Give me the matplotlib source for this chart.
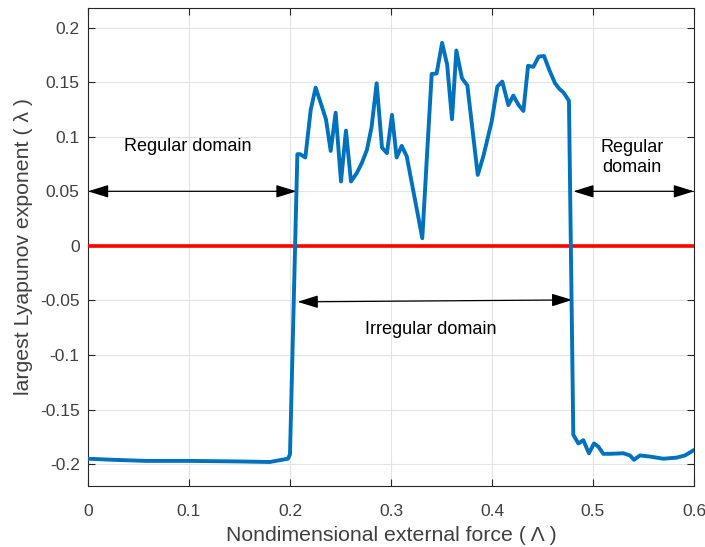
import matplotlib.pyplot as plt

plt.rcParams['font.family'] = ['Liberation Sans', 'DejaVu Sans']

# largest Lyapunov exponent vs nondimensional force
force = [0.0, 0.025, 0.058, 0.101, 0.150, 0.180, 0.198, 0.200,
         0.2073, 0.210, 0.2152, 0.2205, 0.2254, 0.2304, 0.2356, 0.2403, 0.2452,
         0.2505, 0.2554, 0.2604, 0.2660, 0.2710, 0.2762, 0.2808, 0.2858, 0.2911,
         0.2960, 0.3010, 0.3056, 0.3106, 0.3156, 0.3310, 0.3352, 0.3403, 0.3452,
         0.3506, 0.3556, 0.3604, 0.3647, 0.3703, 0.3756, 0.3859, 0.3914, 0.3997,
         0.4053, 0.4102, 0.4162, 0.4211, 0.4264, 0.4311, 0.4357, 0.4409, 0.4462,
         0.4515, 0.4568, 0.4624, 0.4667, 0.4707, 0.4762, 0.4805, 0.4855, 0.4904,
         0.4960, 0.5010, 0.5053, 0.5102, 0.5168, 0.5300, 0.5366, 0.5406, 0.5465,
         0.5564, 0.5696, 0.5828, 0.5911, 0.600]
lyap = [-0.195, -0.196, -0.197, -0.197, -0.1975, -0.198, -0.195, -0.191,
        0.084, 0.084, 0.081, 0.1245, 0.145, 0.131, 0.116, 0.087, 0.122,
        0.059, 0.1056, 0.059, 0.0665, 0.0757, 0.088, 0.109, 0.149, 0.090,
        0.085, 0.120, 0.081, 0.0916, 0.082, 0.007, 0.0757, 0.1575, 0.158,
        0.186, 0.166, 0.116, 0.179, 0.1535, 0.147, 0.065, 0.082, 0.114,
        0.146, 0.1505, 0.129, 0.1377, 0.129, 0.1236, 0.165, 0.164, 0.1734,
        0.174, 0.161, 0.149, 0.1438, 0.1406, 0.133, -0.173, -0.181, -0.178,
        -0.190, -0.181, -0.184, -0.1905, -0.1905, -0.190, -0.192, -0.196, -0.192,
        -0.193, -0.195, -0.194, -0.192, -0.187]

xticks = [0, 0.1, 0.2, 0.3, 0.4, 0.5, 0.6]
yticks = [-0.2, -0.15, -0.1, -0.05, 0, 0.05, 0.1, 0.15, 0.2]
xtick_labels = ['0', '0.1', '0.2', '0.3', '0.4', '0.5', '0.6']
ytick_labels = ['-0.2', '-0.15', '-0.1', '-0.05', '0', '0.05', '0.1', '0.15', '0.2']

fig = plt.figure(figsize=(7.05, 5.47), dpi=100)
ax = fig.add_axes([0.1248, 0.1115, 0.8596, 0.874])

ax.plot([0, 0.6], [0, 0], color='#ff0000', lw=2.6, zorder=3)
ax.plot(force, lyap, color='#0072bd', lw=2.8, zorder=4)

arrow = dict(arrowstyle='<|-|>,head_length=0.9,head_width=0.28', color='black',
             lw=0.9, mutation_scale=14, shrinkA=0, shrinkB=0)
ax.annotate('', xy=(0.0, 0.05), xytext=(0.2065, 0.05), arrowprops=arrow)
ax.annotate('', xy=(0.4805, 0.05), xytext=(0.6, 0.05), arrowprops=arrow)
ax.annotate('', xy=(0.2075, -0.0513), xytext=(0.4795, -0.0495), arrowprops=arrow)

ax.text(0.099, 0.0915, 'Regular domain', ha='center', va='center', fontsize=13)
ax.text(0.5386, 0.081, 'Regular\ndomain', ha='center', va='center', fontsize=13,
        linespacing=1.3)
ax.text(0.3396, -0.0765, 'Irregular domain', ha='center', va='center', fontsize=13)

ax.set_xlim(0, 0.6)
ax.set_ylim(-0.22, 0.218)
ax.set_xticks(xticks)
ax.set_xticklabels(xtick_labels)
ax.set_yticks(yticks)
ax.set_yticklabels(ytick_labels)
ax.grid(True, color='#e3e3e3', lw=0.8)
ax.set_axisbelow(True)
ax.tick_params(direction='in', top=True, right=True, length=5, width=0.8,
               colors='#262626', labelsize=12.5, labelcolor='#404040', pad=6)
ax.tick_params(axis='x', pad=13)
for s in ax.spines.values():
    s.set_color('#262626')
    s.set_linewidth(0.8)

ax.set_xlabel('Nondimensional external force ( Λ )', fontsize=15.3,
              color='#404040', labelpad=5)
ax.set_ylabel('largest Lyapunov exponent ( λ )', fontsize=15.3,
              color='#404040', labelpad=5)

fig.savefig('out.png', dpi=100)
